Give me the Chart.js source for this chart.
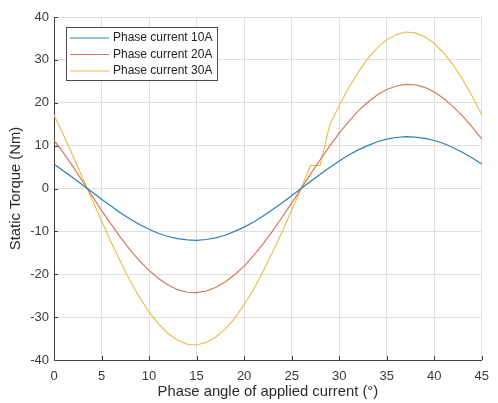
<!DOCTYPE html>
<html>
<head>
<meta charset="utf-8">
<script src="https://cdn.jsdelivr.net/npm/chart.js@4/dist/chart.umd.min.js"></script>
<style>
  html, body { margin: 0; padding: 0; background: #fff; }
  #wrap { width: 498px; height: 403px; }
</style>
</head>
<body>
<div id="wrap"><canvas id="c" width="498" height="403"></canvas></div>
<script>
// Phase angle (degrees)
const angles = [0,1,2,3,4,5,6,7,8,9,10,11,12,13,14,15,16,17,18,19,20,21,22,23,24,25,26,27,28,29,30,31,32,33,34,35,36,37,38,39,40,41,42,43,44,45];
// Static torque (Nm)
const torque10A = [5.7,4.1,2.5,0.8,-0.8,-2.5,-4.1,-5.7,-7.1,-8.4,-9.5,-10.5,-11.2,-11.7,-12.0,-12.1,-11.9,-11.5,-10.9,-10.0,-9.0,-7.8,-6.4,-4.9,-3.3,-1.7,0,1.7,3.3,4.9,6.4,7.8,9.0,10.0,10.9,11.5,11.9,12.1,12.0,11.7,11.2,10.5,9.5,8.4,7.1,5.7];
const torque20A = [11.2,8.3,5.1,1.7,-1.7,-5.1,-8.3,-11.4,-14.3,-16.9,-19.1,-21.0,-22.5,-23.6,-24.2,-24.3,-23.9,-23.1,-21.8,-20.1,-18.1,-15.6,-12.9,-9.9,-6.7,-3.4,0,3.4,6.7,9.9,12.9,15.6,18.1,20.1,21.8,23.1,23.9,24.3,24.2,23.6,22.5,21.0,19.1,16.9,14.3,11.5];
const torque30A = [17.1,12.5,7.6,2.5,-2.5,-7.6,-12.5,-17.1,-21.5,-25.4,-28.8,-31.6,-33.8,-35.4,-36.3,-36.5,-35.9,-34.7,-32.8,-30.3,-27.1,-23.5,-19.3,-14.8,-10.1,-5.1,0,5.4,5.4,14.8,19.3,23.5,27.1,30.3,32.8,34.7,35.9,36.5,36.3,35.4,33.8,31.6,28.8,25.4,21.5,17.2];
const seriesLabels = ['Phase current 10A','Phase current 20A','Phase current 30A'];
const seriesColors = ['#2a80b5','#d4795a','#e8c04e'];
const xTicks = [0,5,10,15,20,25,30,35,40,45];
const yTicks = [-40,-30,-20,-10,0,10,20,30,40];
const xTitle = 'Phase angle of applied current (°)';
const yTitle = 'Static Torque (Nm)';

const FONT = "'Liberation Sans', Arial, sans-serif";
const AXIS_COLOR = '#404040';
const TEXT_COLOR = '#3a3a3a';

const toPts = arr => angles.map((a, i) => ({x: a, y: arr[i]}));
const allSeries = [torque10A, torque20A, torque30A];

const innerTicks = {
  id: 'innerTicks',
  afterDatasetsDraw(chart) {
    const {ctx, chartArea: ca, scales} = chart;
    ctx.save();
    ctx.strokeStyle = AXIS_COLOR;
    ctx.lineWidth = 1;
    ctx.beginPath();
    xTicks.forEach(v => {
      const px = Math.round(scales.x.getPixelForValue(v)) + 0.5;
      ctx.moveTo(px, ca.bottom);
      ctx.lineTo(px, ca.bottom - 4);
    });
    yTicks.forEach(v => {
      const py = Math.round(scales.y.getPixelForValue(v)) + 0.5;
      ctx.moveTo(ca.left, py);
      ctx.lineTo(ca.left + 4, py);
    });
    ctx.stroke();
    ctx.restore();
  }
};

const boxLegend = {
  id: 'boxLegend',
  afterDraw(chart) {
    const {ctx} = chart;
    const x0 = 66.5, y0 = 27.5, w = 151, h = 53;
    ctx.save();
    ctx.fillStyle = '#ffffff';
    ctx.fillRect(x0, y0, w, h);
    ctx.strokeStyle = '#4a4a4a';
    ctx.lineWidth = 1;
    ctx.strokeRect(x0, y0, w, h);
    ctx.font = '12px ' + FONT;
    ctx.textBaseline = 'middle';
    ctx.textAlign = 'left';
    chart.data.datasets.forEach((ds, i) => {
      const y = 38 + i * 16.5;
      ctx.strokeStyle = ds.borderColor;
      ctx.lineWidth = 1.2;
      ctx.beginPath();
      ctx.moveTo(70, y);
      ctx.lineTo(109, y);
      ctx.stroke();
      ctx.fillStyle = '#222';
      ctx.fillText(ds.label, 113, y);
    });
    ctx.restore();
  }
};

new Chart(document.getElementById('c'), {
  type: 'line',
  data: {
    datasets: allSeries.map((s, i) => ({
      label: seriesLabels[i],
      data: toPts(s),
      borderColor: seriesColors[i],
      backgroundColor: seriesColors[i],
      borderWidth: 1.2,
      pointRadius: 0,
      tension: 0,
      fill: false
    }))
  },
  options: {
    responsive: false,
    animation: false,
    layout: { padding: { top: 17, right: 7, bottom: 1, left: 0 } },
    plugins: { legend: { display: false }, tooltip: { enabled: false } },
    scales: {
      x: {
        type: 'linear',
        min: 0, max: 45,
        afterFit: s => { s.height = 42; },
        afterBuildTicks: s => { s.ticks = xTicks.map(v => ({value: v})); },
        grid: { color: '#dedede', drawTicks: false, lineWidth: 1 },
        border: { color: AXIS_COLOR, width: 1 },
        ticks: { padding: 9, color: TEXT_COLOR, font: { family: FONT, size: 13 }, maxRotation: 0 },
        title: { display: true, text: xTitle, color: '#2a2a2a', font: { family: FONT, size: 14.8 }, padding: { top: 0, bottom: 1 } }
      },
      y: {
        type: 'linear',
        min: -40, max: 40,
        afterFit: s => { s.width = 54; },
        afterBuildTicks: s => { s.ticks = yTicks.map(v => ({value: v})); },
        grid: { color: '#dedede', drawTicks: false, lineWidth: 1 },
        border: { color: AXIS_COLOR, width: 1 },
        ticks: { padding: 5, color: TEXT_COLOR, font: { family: FONT, size: 13 } },
        title: { display: true, text: yTitle, color: '#2a2a2a', font: { family: FONT, size: 14.8 }, padding: { top: 7, bottom: 0 } }
      }
    }
  },
  plugins: [innerTicks, boxLegend]
});
</script>
</body>
</html>
